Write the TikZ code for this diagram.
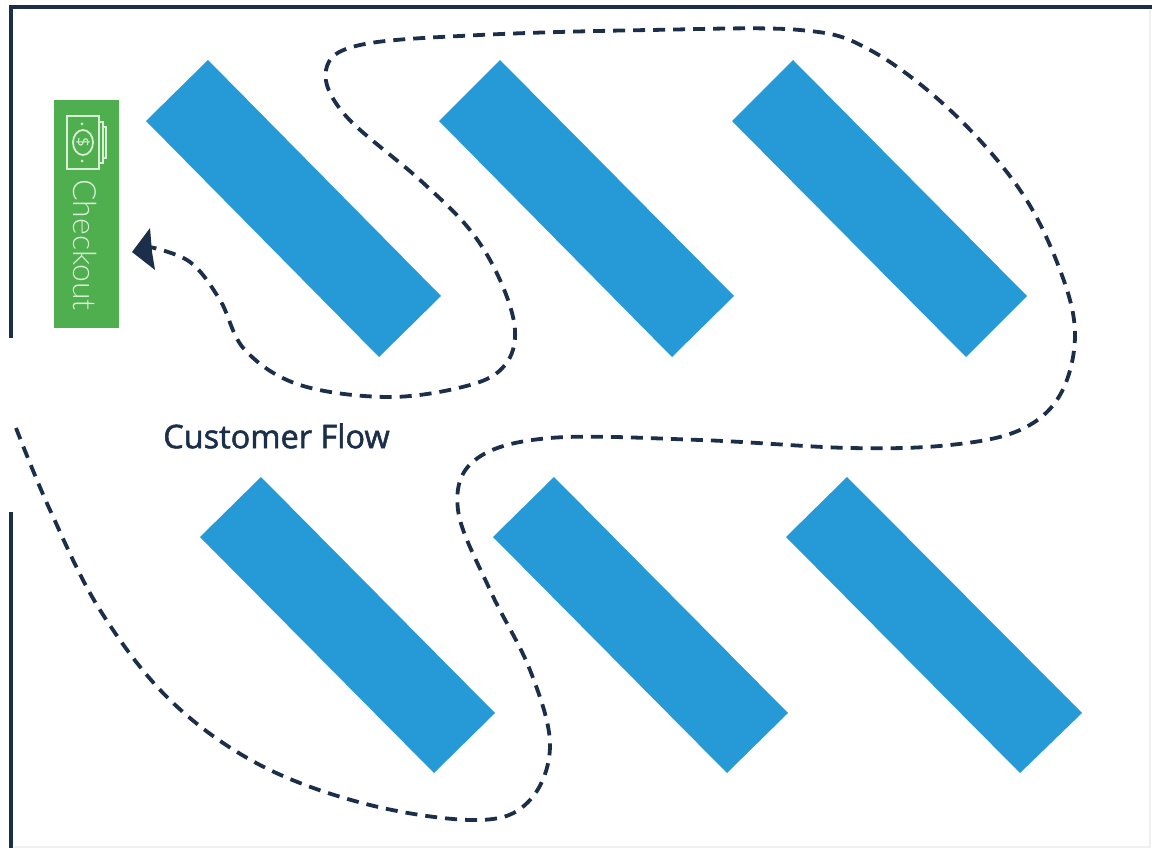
\documentclass[tikz,border=0pt]{standalone}
\usepackage{fontspec}
\setmainfont{Open Sans}
\newfontfamily\thinfont{Lato Light}
\newfontfamily\semifont[FakeBold=1.6]{Open Sans}
\usetikzlibrary{calc}
\definecolor{navy}{HTML}{1B2F4B}
\definecolor{shelfblue}{HTML}{269AD6}
\definecolor{checkgreen}{HTML}{4FAE4E}
\definecolor{iconline}{HTML}{D8EFD6}
\tikzset{
  wall/.style={draw=navy,line width=3.6pt},
  shelf/.style={fill=shelfblue,draw=none},
  flow/.style={draw=navy,line width=3.8pt,dash pattern=on 12pt off 8pt},
  icon/.style={draw=iconline,line width=1.8pt},
}
\begin{document}
\begin{tikzpicture}[x=1pt,y=-1pt]
\useasboundingbox (0,0) rectangle (1152,848);
\fill[white] (0,0) rectangle (1152,848);
% walls
\draw[wall] (11,338) -- (11,7) -- (1152,7);
\draw[wall] (11,512) -- (11,848);
\draw[black!6,line width=1.5pt] (14,847) -- (1150,847) -- (1150,10);
% shelves
\fill[shelf] (208,60) -- (441,296) -- (379,357) -- (146,121) -- cycle;
\fill[shelf] (500,60) -- (734,296) -- (672,357) -- (439,121) -- cycle;
\fill[shelf] (793,60) -- (1027,296) -- (966,357) -- (732,121) -- cycle;
\fill[shelf] (261,477) -- (495,713) -- (434,773) -- (200,537) -- cycle;
\fill[shelf] (554,477) -- (788,713) -- (727,773) -- (493,537) -- cycle;
\fill[shelf] (847,477) -- (1082,713) -- (1020,773) -- (786,537) -- cycle;
% checkout
\fill[checkgreen] (54,100) rectangle (119,328);
\node[rotate=-90,text=iconline,font=\thinfont\fontsize{32}{32}\selectfont,inner sep=0pt] (checkout) at (85,245) {Checkout};
% icon
\draw[icon] (67,116) rectangle (99,169);
\draw[icon] (99,122) -- (103,122) -- (103,163) -- (99,163);
\draw[icon] (103,127) -- (106,127) -- (106,158) -- (103,158);
\draw[icon] (83,142.5) ellipse (10 and 12.5);
\node[rotate=-90,text=iconline,font=\fontsize{17}{17}\selectfont,inner sep=0pt] (dollar) at (83,142.5) {\$};
\fill[iconline] (82,124) circle (1.5) (82,161) circle (1.5);
% label
\node[text=navy,font=\semifont\fontsize{32.5}{32.5}\selectfont,inner sep=0pt,anchor=center] (flowlabel) at (276.5,436) {Customer Flow};
% flow
\coordinate (flowstart) at (16,428);
\coordinate (flowend) at (150,247);
\draw[flow] plot[smooth,tension=0.6] coordinates {(flowstart) (50,510) (100,610) (170,700) (260,765) (370,805) (480,820) (530,800) (550,745) (530,670) (490,590) (458,510) (475,460) (550,438) (700,440) (850,448) (950,445) (1020,430) (1060,395) (1075,335) (1060,270) (1020,190) (950,110) (870,50) (800,30) (650,30) (480,35) (360,45) (326,70) (345,115) (420,180) (470,230) (500,280) (515,330) (505,365) (470,385) (390,397) (300,385) (245,350) (220,300) (190,262) (flowend)};
\fill[navy] (132,252) -- (150,228) -- (152,252) -- (155,270) -- cycle;
\end{tikzpicture}
\end{document}
